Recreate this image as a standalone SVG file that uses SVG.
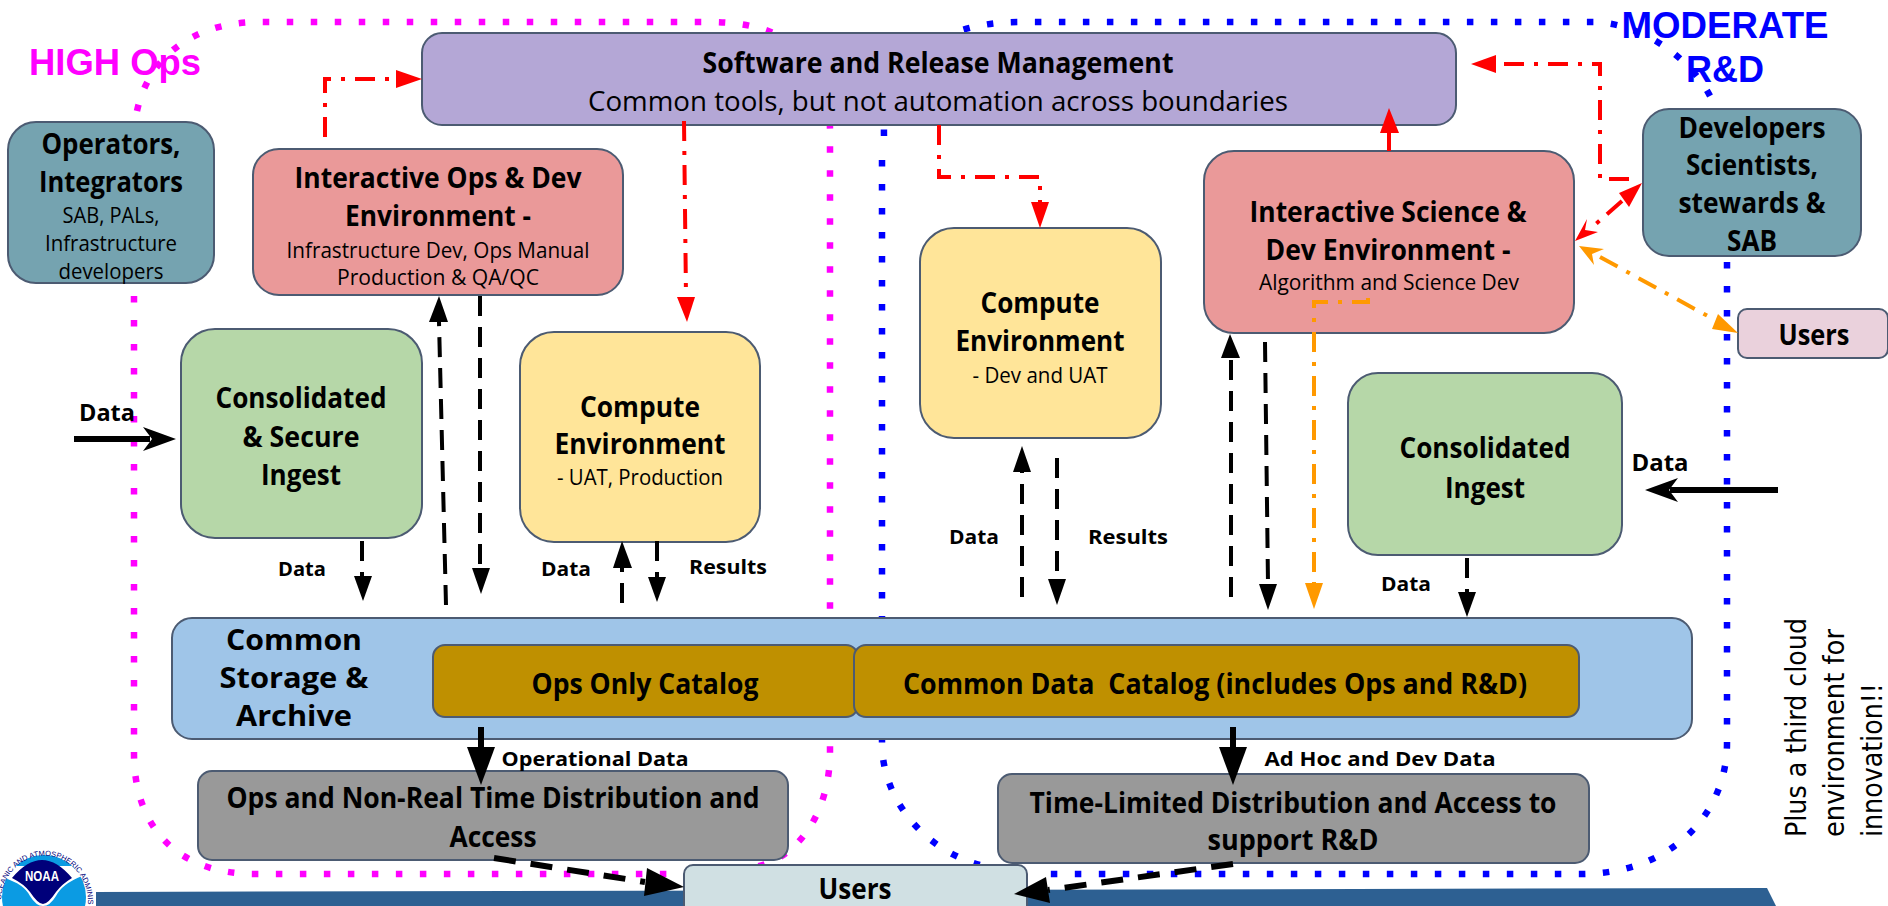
<svg xmlns="http://www.w3.org/2000/svg" width="1888" height="906" viewBox="0 0 1888 906">
<style>
text{font-family:"Open Sans","Noto Sans","DejaVu Sans",sans-serif;fill:#000;text-anchor:middle;white-space:pre}
.n text{transform:translateY(1px)}
.b{font-weight:700;font-size:28px}
.s{font-size:21px}
.r{font-size:28px}
.l{font-weight:700;font-size:20px}
.g{font-family:"Liberation Sans",Arial,sans-serif;font-weight:700;font-size:36px}
.v{font-family:"DejaVu Sans",sans-serif;font-size:28px;text-anchor:start}
.n rect{stroke:#4c5b72;stroke-width:2}
.dot{fill:none;stroke-width:6.5;stroke-dasharray:6.5 17.5}
.rd{fill:none;stroke:#f00;stroke-width:4;stroke-dasharray:20 10 4 10}
.od{fill:none;stroke:#f90;stroke-width:4;stroke-dasharray:20 10 4 10}
.kd{fill:none;stroke:#000;stroke-width:4;stroke-dasharray:20 11}
.kb{fill:none;stroke:#000;stroke-width:6;stroke-dasharray:22 15}
.ks{fill:none;stroke:#000;stroke-width:6}
</style>
<g id="banner"><polygon points="96,892 1767,888 1776,906 96,906" fill="#2d6092"/></g>
<g id="logo">
<circle cx="44" cy="897" r="42" fill="#0b9be3"/>
<path d="M4,878 Q24,884 30,896 Q36,906 43,906 Q50,906 56,896 Q62,884 82,876 L72,866 L14,866 Z" fill="#fff"/>
<path d="M12,878 Q42,842 72,878 Q62,884 56,892 Q48,904 43,904 Q38,904 30,892 Q24,884 12,878 Z" fill="#00007a"/>
<text x="42" y="881" style="font-family:'Liberation Sans',sans-serif;font-weight:700;font-size:14px;fill:#fff" textLength="34" lengthAdjust="spacingAndGlyphs">NOAA</text>
<path id="ring" d="M1,900 A43,46 0 1 1 88,905" fill="none"/>
<text style="font-family:'Liberation Sans',sans-serif;font-size:7.5px;fill:#00007a;text-anchor:start"><textPath href="#ring">OCEANIC AND ATMOSPHERIC ADMINISTRATION</textPath></text>
</g>
<g id="labels-zones">
<text class="g" x="115" y="75" style="fill:#f0f" textLength="172" lengthAdjust="spacingAndGlyphs">HIGH Ops</text>
<text class="g" x="1725" y="38" style="fill:#00f" textLength="207" lengthAdjust="spacingAndGlyphs">MODERATE</text>
<text class="g" x="1725" y="82" style="fill:#00f" textLength="78" lengthAdjust="spacingAndGlyphs">R&amp;D</text>
</g>
<g id="boundaries">
<path class="dot" stroke="#f0f" d="M137,111 C148,60 190,22 260,22 L710,22 C790,22 830,60 830,130 L830,752 C830,810 800,860 750,868 M134,296 L134,753 C134,830 180,874 255,874 L670,874"/>
<path class="dot" stroke="#00f" d="M884,136 C882,70 930,22 1020,22 L1596,22 C1650,25 1695,65 1711,98 M1727,262 L1727,743 C1727,815 1670,874 1581,874 L1040,874 M882,160 L882,743 C882,800 925,850 980,865"/>
</g>
<g id="software" class="n"><rect x="422" y="33" width="1034" height="92" rx="20" fill="#b4a7d6"/>
<text class="b" x="938" y="72" textLength="471" lengthAdjust="spacingAndGlyphs">Software and Release Management</text>
<text class="r" x="938" y="110" textLength="700" lengthAdjust="spacingAndGlyphs">Common tools, but not automation across boundaries</text></g>
<g id="operators" class="n"><rect x="8" y="122" width="206" height="161" rx="28" fill="#75a3b0"/>
<text class="b" x="111" y="153" textLength="139" lengthAdjust="spacingAndGlyphs">Operators,</text>
<text class="b" x="111" y="191" textLength="144" lengthAdjust="spacingAndGlyphs">Integrators</text>
<text class="s" x="111" y="222" textLength="97" lengthAdjust="spacingAndGlyphs">SAB, PALs,</text>
<text class="s" x="111" y="250" textLength="132" lengthAdjust="spacingAndGlyphs">Infrastructure</text>
<text class="s" x="111" y="278" textLength="105" lengthAdjust="spacingAndGlyphs">developers</text></g>
<g id="interactive-ops" class="n"><rect x="253" y="149" width="370" height="146" rx="26" fill="#ea9999"/>
<text class="b" x="438" y="187" textLength="287" lengthAdjust="spacingAndGlyphs">Interactive Ops &amp; Dev</text>
<text class="b" x="438" y="225" textLength="186" lengthAdjust="spacingAndGlyphs">Environment -</text>
<text class="s" x="438" y="257" textLength="303" lengthAdjust="spacingAndGlyphs">Infrastructure Dev, Ops Manual</text>
<text class="s" x="438" y="284" textLength="202" lengthAdjust="spacingAndGlyphs">Production &amp; QA/QC</text></g>
<g id="secure-ingest" class="n"><rect x="181" y="329" width="241" height="209" rx="34" fill="#b6d7a8"/>
<text class="b" x="301" y="407" textLength="171" lengthAdjust="spacingAndGlyphs">Consolidated</text>
<text class="b" x="301" y="446" textLength="117" lengthAdjust="spacingAndGlyphs">&amp; Secure</text>
<text class="b" x="301" y="484" textLength="80" lengthAdjust="spacingAndGlyphs">Ingest</text></g>
<g id="compute-ops" class="n"><rect x="520" y="332" width="240" height="210" rx="34" fill="#ffe599"/>
<text class="b" x="640" y="416" textLength="120" lengthAdjust="spacingAndGlyphs">Compute</text>
<text class="b" x="640" y="453" textLength="171" lengthAdjust="spacingAndGlyphs">Environment</text>
<text class="s" x="640" y="484" textLength="166" lengthAdjust="spacingAndGlyphs">- UAT, Production</text></g>
<g id="compute-dev" class="n"><rect x="920" y="228" width="241" height="210" rx="34" fill="#ffe599"/>
<text class="b" x="1040" y="312" textLength="119" lengthAdjust="spacingAndGlyphs">Compute</text>
<text class="b" x="1040" y="350" textLength="169" lengthAdjust="spacingAndGlyphs">Environment</text>
<text class="s" x="1040" y="382" textLength="135" lengthAdjust="spacingAndGlyphs">- Dev and UAT</text></g>
<g id="interactive-science" class="n"><rect x="1204" y="151" width="370" height="182" rx="30" fill="#ea9999"/>
<text class="b" x="1388" y="221" textLength="277" lengthAdjust="spacingAndGlyphs">Interactive Science &amp;</text>
<text class="b" x="1388" y="259" textLength="245" lengthAdjust="spacingAndGlyphs">Dev Environment -</text>
<text class="s" x="1389" y="289" textLength="260" lengthAdjust="spacingAndGlyphs">Algorithm and Science Dev</text></g>
<g id="developers" class="n"><rect x="1643" y="109" width="218" height="147" rx="26" fill="#75a3b0"/>
<text class="b" x="1752" y="137" textLength="147" lengthAdjust="spacingAndGlyphs">Developers</text>
<text class="b" x="1752" y="174" textLength="132" lengthAdjust="spacingAndGlyphs">Scientists,</text>
<text class="b" x="1752" y="212" textLength="147" lengthAdjust="spacingAndGlyphs">stewards &amp;</text>
<text class="b" x="1752" y="250" textLength="50" lengthAdjust="spacingAndGlyphs">SAB</text></g>
<g id="users-right" class="n"><rect x="1738" y="309" width="150" height="49" rx="9" fill="#ead1dc"/>
<text class="b" x="1814" y="344" textLength="71" lengthAdjust="spacingAndGlyphs">Users</text></g>
<g id="consolidated-ingest" class="n"><rect x="1348" y="373" width="274" height="182" rx="30" fill="#b6d7a8"/>
<text class="b" x="1485" y="457" textLength="171" lengthAdjust="spacingAndGlyphs">Consolidated</text>
<text class="b" x="1485" y="497" textLength="80" lengthAdjust="spacingAndGlyphs">Ingest</text></g>
<g id="storage" class="n"><rect x="172" y="618" width="1520" height="121" rx="20" fill="#9fc5e8"/>
<text class="b" x="294" y="649" textLength="136" lengthAdjust="spacingAndGlyphs">Common</text>
<text class="b" x="294" y="687" textLength="149" lengthAdjust="spacingAndGlyphs">Storage &amp;</text>
<text class="b" x="294" y="725" textLength="116" lengthAdjust="spacingAndGlyphs">Archive</text></g>
<g id="ops-catalog" class="n"><rect x="433" y="645" width="425" height="72" rx="12" fill="#bf9000"/>
<text class="b" x="645" y="693" textLength="227" lengthAdjust="spacingAndGlyphs">Ops Only Catalog</text></g>
<g id="common-catalog" class="n"><rect x="854" y="645" width="725" height="72" rx="12" fill="#bf9000"/>
<text class="b" x="1215" y="693" textLength="624" lengthAdjust="spacingAndGlyphs">Common Data  Catalog (includes Ops and R&amp;D)</text></g>
<g id="ops-distribution" class="n"><rect x="198" y="771" width="590" height="89" rx="14" fill="#999"/>
<text class="b" x="493" y="807" textLength="533" lengthAdjust="spacingAndGlyphs">Ops and Non-Real Time Distribution and</text>
<text class="b" x="493" y="846" textLength="87" lengthAdjust="spacingAndGlyphs">Access</text></g>
<g id="time-limited" class="n"><rect x="998" y="774" width="591" height="89" rx="14" fill="#999"/>
<text class="b" x="1293" y="812" textLength="527" lengthAdjust="spacingAndGlyphs">Time-Limited Distribution and Access to</text>
<text class="b" x="1293" y="849" textLength="171" lengthAdjust="spacingAndGlyphs">support R&amp;D</text></g>
<g id="users-bottom" class="n"><rect x="684" y="865" width="343" height="60" rx="9" fill="#d0e0e3"/>
<text class="b" x="855" y="898" textLength="73" lengthAdjust="spacingAndGlyphs">Users</text></g>
<g id="connectors">
<path class="rd" d="M325,137 V79 H396"/><polygon points="422,79 396,70 396,88" fill="#f00"/>
<path class="rd" d="M684,121 L686,297"/><polygon points="687,322 677,297 695,297" fill="#f00"/>
<path class="rd" d="M939,125 V177 H1040 V202"/><polygon points="1040,228 1031,202 1049,202" fill="#f00"/>
<path d="M1389,151 V133" fill="none" stroke="#f00" stroke-width="4"/><polygon points="1389,108 1380,133 1399,133" fill="#f00"/>
<path class="rd" d="M1629,179 H1600 V64 H1496"/><polygon points="1471,64 1496,55 1496,73" fill="#f00"/>
<path class="rd" d="M1622,201 L1590,229"/><polygon points="1642,183 1629,207 1619,193" fill="#f00"/><polygon points="1575,241 1587,219 1585,230 1598,232" fill="#f00"/>
<path class="od" d="M1368,298 V302 H1314 V583"/><polygon points="1314,609 1305,583 1323,583" fill="#f90"/>
<path class="od" d="M1600,257 L1715,320"/><polygon points="1738,333 1712,329 1718,314" fill="#f90"/><polygon points="1579,246 1604,249 1592,254 1594,265" fill="#f90"/>
<path class="ks" d="M74,439 H150"/><polygon points="176,439 143,427 152,439 143,451" fill="#000"/>
<path class="ks" d="M1778,490 H1670"/><polygon points="1645,490 1678,478 1669,490 1678,502" fill="#000"/>
<path class="kd" d="M446,605 L439,322"/><polygon points="439,296 429,322 448,322" fill="#000"/>
<path class="kd" d="M480,296 V568"/><polygon points="481,594 472,568 490,568" fill="#000"/>
<path class="kd" d="M362,541 V576"/><polygon points="363,601 354,576 372,576" fill="#000"/>
<path class="kd" d="M622,603 V568"/><polygon points="622,541 613,568 632,568" fill="#000"/>
<path class="kd" d="M657,541 V577"/><polygon points="657,602 648,577 666,577" fill="#000"/>
<path class="kd" d="M1022,597 V472"/><polygon points="1022,446 1013,472 1031,472" fill="#000"/>
<path class="kd" d="M1057,458 V579"/><polygon points="1057,605 1048,579 1066,579" fill="#000"/>
<path class="kd" d="M1231,597 V358"/><polygon points="1230,334 1221,358 1240,358" fill="#000"/>
<path class="kd" d="M1265,342 L1268,584"/><polygon points="1268,610 1259,584 1277,584" fill="#000"/>
<path class="kd" d="M1467,558 V592"/><polygon points="1467,617 1458,592 1476,592" fill="#000"/>
<path class="ks" d="M481,727 V750"/><polygon points="481,785 467,747 495,747" fill="#000"/>
<path class="ks" d="M1233,727 V750"/><polygon points="1233,785 1219,747 1247,747" fill="#000"/>
<path class="kb" d="M494,858 L645,882"/><polygon points="684,887 647,868 644,896" fill="#000"/>
<path class="kb" d="M1233,864 L1048,890"/><polygon points="1014,894 1046,877 1050,903" fill="#000"/>
</g>
<g id="connector-labels">
<text class="l" x="107" y="421" style="font-size:24px" textLength="56" lengthAdjust="spacingAndGlyphs">Data</text>
<text class="l" x="302" y="576" textLength="48" lengthAdjust="spacingAndGlyphs">Data</text>
<text class="l" x="566" y="576" textLength="50" lengthAdjust="spacingAndGlyphs">Data</text>
<text class="l" x="728" y="574" textLength="78" lengthAdjust="spacingAndGlyphs">Results</text>
<text class="l" x="974" y="544" textLength="50" lengthAdjust="spacingAndGlyphs">Data</text>
<text class="l" x="1128" y="544" textLength="80" lengthAdjust="spacingAndGlyphs">Results</text>
<text class="l" x="1406" y="591" textLength="50" lengthAdjust="spacingAndGlyphs">Data</text>
<text class="l" x="1660" y="471" style="font-size:24px" textLength="57" lengthAdjust="spacingAndGlyphs">Data</text>
<text class="l" x="595" y="766" textLength="187" lengthAdjust="spacingAndGlyphs">Operational Data</text>
<text class="l" x="1380" y="766" textLength="231" lengthAdjust="spacingAndGlyphs">Ad Hoc and Dev Data</text>
</g>
<g id="note">
<text class="v" transform="translate(1806,837) rotate(-90)" textLength="219" lengthAdjust="spacingAndGlyphs">Plus a third cloud</text>
<text class="v" transform="translate(1844,837) rotate(-90)" textLength="208" lengthAdjust="spacingAndGlyphs">environment for</text>
<text class="v" transform="translate(1882,837) rotate(-90)" textLength="154" lengthAdjust="spacingAndGlyphs">innovation!!</text>
</g>
</svg>
